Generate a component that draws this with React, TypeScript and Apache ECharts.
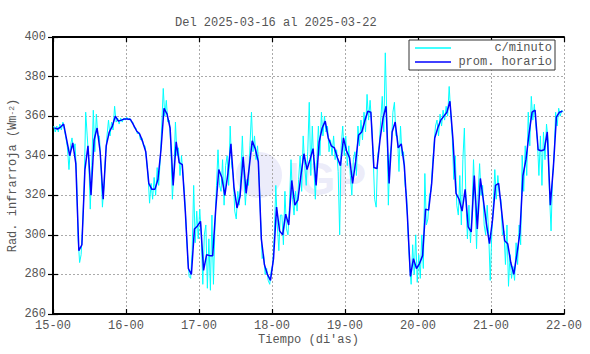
import React, { useEffect, useRef } from "react";
import * as echarts from "echarts";

const START_DAY = 15;
const TOTAL_HOURS = 168;
const HOUR_STEP = 24;
const TITLE = "Del 2025-03-16 al 2025-03-22";
const X_NAME = "Tiempo (di'as)";
const Y_NAME = "Rad. infrarroja (Wm{sup|-2})";
const Y_MIN = 260;
const Y_MAX = 400;
const Y_STEP = 20;
const SERIES_MINUTE = "c/minuto";
const SERIES_HOURLY = "prom. horario";

// hourly averages (plotted at mid-hour)
const hourly: number[] = [
  // 15
  354, 353.5, 354.5, 356, 348, 340, 346.5, 336, 292, 295, 333, 345, 320, 348, 354, 342, 318, 345, 352, 355, 360, 357.5, 358, 358.6,
  // 16
  358.6, 358.3, 355.5, 352.5, 351, 347, 342, 326, 323, 323, 328, 343, 364, 361, 354, 325, 347, 336.5, 335.5, 312, 283, 280, 303, 304.5,
  // 17
  306.8, 282, 290, 289.5, 289.5, 313, 333, 329, 320, 331, 346, 324, 313.6, 319.5, 339.5, 321, 334, 347.5, 343.5, 337, 298, 285, 280, 277,
  // 18
  288, 314, 302, 300, 310.5, 305, 327.5, 315, 317.5, 330, 341, 333, 338, 343.6, 325, 347, 354, 357.5, 349, 345, 344, 339, 335, 349,
  // 19
  342.5, 339, 326, 337, 350.5, 352, 357.5, 362.5, 362, 334, 333.5, 348, 359, 365, 326, 352, 357, 344, 346, 335, 310, 279, 288, 283,
  // 20
  285.5, 289.5, 313, 312.5, 326, 349, 354, 358, 360, 362, 367.5, 348, 321, 318, 312, 323, 304, 301.5, 330, 303, 328.5, 317.5, 305.5, 295.5,
  // 21
  307.5, 325, 326, 312, 297, 295.5, 286, 280, 290, 301, 330, 338, 351, 362, 363, 343, 342.5, 343, 352, 315, 334, 359.5, 362, 362.5,
];

// per-minute readings, sampled twice per hour (at :15 and :45)
const minute: number[] = [
  // 15
  355, 352, 355, 352, 356, 353, 357, 353, 349, 344, 333, 345, 349, 343, 346, 330,
  298, 286, 290, 305, 325, 362, 350, 338, 313, 335, 363, 342, 361, 350, 350, 335,
  314, 325, 340, 350, 358, 350, 357, 353, 365, 357, 359, 356, 359, 357, 359, 358,
  // 16
  359.5, 358, 359, 357, 357, 354, 354, 351, 352, 348, 349, 345, 345, 338, 330, 316,
  326, 318, 329, 320, 334, 325, 338, 355, 374, 360, 368, 357, 358, 345, 318, 332,
  357, 340, 344, 330, 340, 330, 320, 305, 290, 279, 278, 292, 325, 296, 312, 298,
  // 17
  313, 300, 275, 300, 305, 273, 298, 272, 310, 275, 305, 325, 343, 325, 322, 338,
  315, 335, 340, 325, 355, 335, 330, 312, 308, 322, 315, 330, 350, 330, 315, 328,
  325, 345, 362, 342, 350, 338, 345, 330, 308, 288, 290, 280, 283, 277, 275, 282,
  // 18
  285, 300, 325, 305, 292, 310, 310, 295, 322, 303, 300, 315, 338, 318, 310, 322,
  312, 328, 340, 322, 350, 335, 325, 342, 367, 330, 355, 335, 318, 338, 355, 340,
  362, 350, 360, 352, 355, 342, 348, 340, 350, 338, 343, 332, 300, 345, 355, 340,
  // 19
  350, 335, 345, 330, 320, 338, 342, 330, 355, 345, 358, 348, 362, 352, 371, 358,
  368, 356, 340, 318, 314, 340, 345, 358, 370, 352, 392, 360, 315, 340, 345, 362,
  367, 350, 350, 332, 355, 340, 342, 325, 320, 300, 285, 275, 295, 280, 300, 276,
  // 20
  290, 278, 300, 283, 331, 305, 308, 320, 322, 335, 345, 355, 358, 350, 361, 355,
  363, 358, 365, 360, 375, 362, 350, 328, 340, 315, 310, 330, 305, 338, 354, 318,
  298, 315, 296, 310, 338, 318, 293, 320, 336, 320, 325, 305, 300, 315, 300, 277,
  // 21
  300, 315, 333, 318, 330, 320, 318, 300, 302, 285, 305, 274, 290, 278, 284, 277,
  296, 285, 305, 295, 340, 322, 345, 330, 362, 345, 370, 358, 366, 355, 348, 330,
  350, 325, 352, 338, 356, 348, 320, 302, 330, 340, 362, 355, 364, 360, 363, 362,
];

const FONT = "'Liberation Mono', 'DejaVu Sans Mono', monospace";
const TEXT_COLOR = "#555";

export default function App() {
  const ref = useRef<HTMLDivElement>(null);

  useEffect(() => {
    if (!ref.current) return;
    const chart = echarts.init(ref.current, null, { renderer: "svg" });

    const hourlyData = hourly.map((v, i) => [i + 0.5, v]);
    const minuteData = minute.map((v, i) => [i / 2 + 0.25, v]);

    const axisLine = { show: true, lineStyle: { color: "#000", width: 2 } };
    const tick = { show: true, inside: true, length: 5, lineStyle: { color: "#000", width: 1.2 } };
    const grid = { show: true, lineStyle: { color: "#aaa", type: [2, 2] as any, width: 1 } };
    const labelStyle = { color: TEXT_COLOR, fontFamily: FONT, fontSize: 12 };

    const option: any = {
      animation: false,
      backgroundColor: "#fff",
      title: {
        text: TITLE,
        left: 170,
        top: 12,
        textStyle: { fontFamily: FONT, fontSize: 12, fontWeight: "normal", color: TEXT_COLOR },
      },
      grid: { left: 53, right: 26, top: 37, bottom: 40, containLabel: false, outerBoundsMode: "none" },
      legend: {
        right: 35,
        top: 40,
        orient: "vertical",
        itemGap: 2,
        itemWidth: 36,
        itemHeight: 1.5,
        padding: [2, 3, 2, 6],
        backgroundColor: "#fff",
        borderColor: "#333",
        borderWidth: 1,
        borderRadius: 0,
        formatter: (name: string) => `{r|${name}}`,
        textStyle: {
          fontFamily: FONT,
          fontSize: 12,
          color: TEXT_COLOR,
          rich: { r: { width: 96, align: "right", fontFamily: FONT, fontSize: 12, color: TEXT_COLOR, lineHeight: 13 } },
        },
        data: [
          { name: SERIES_MINUTE, icon: "rect" },
          { name: SERIES_HOURLY, icon: "rect" },
        ],
      },
      graphic: [
        {
          type: "group",
          z: 0,
          silent: true,
          children: [
            { type: "circle", shape: { cx: 259, cy: 175, r: 23 }, style: { fill: "rgba(200,200,240,0.35)" } },
            {
              type: "text",
              x: 287,
              y: 156,
              style: { text: "IGP", fill: "rgba(200,200,240,0.35)", font: "bold 46px 'Liberation Sans', sans-serif" },
            },
          ],
        },
      ],
      xAxis: [
        {
          type: "value",
          min: 0,
          max: TOTAL_HOURS,
          interval: HOUR_STEP,
          position: "bottom",
          axisLine,
          axisTick: tick,
          splitLine: grid,
          axisLabel: {
            ...labelStyle,
            margin: 6,
            formatter: (v: number) => `${START_DAY + v / HOUR_STEP}-00`,
          },
          name: X_NAME,
          nameLocation: "middle",
          nameGap: 20,
          nameMoveOverlap: false,
          nameTextStyle: { ...labelStyle },
        },
        {
          type: "value",
          min: 0,
          max: TOTAL_HOURS,
          interval: HOUR_STEP,
          position: "top",
          axisLine,
          axisTick: tick,
          splitLine: { show: false },
          axisLabel: { show: false },
        },
      ],
      yAxis: [
        {
          type: "value",
          min: Y_MIN,
          max: Y_MAX,
          interval: Y_STEP,
          position: "left",
          axisLine,
          axisTick: tick,
          splitLine: grid,
          axisLabel: { ...labelStyle, margin: 7 },
          name: Y_NAME,
          nameLocation: "middle",
          nameGap: 34,
          nameRotate: 90,
          nameMoveOverlap: false,
          nameTextStyle: {
            ...labelStyle,
            rich: { sup: { fontFamily: FONT, fontSize: 8, color: TEXT_COLOR, verticalAlign: "top", lineHeight: 12 } },
          },
        },
        {
          type: "value",
          min: Y_MIN,
          max: Y_MAX,
          interval: Y_STEP,
          position: "right",
          axisLine,
          axisTick: tick,
          splitLine: { show: false },
          axisLabel: { show: false },
        },
      ],
      series: [
        {
          name: SERIES_MINUTE,
          type: "line",
          data: minuteData,
          xAxisIndex: 0,
          yAxisIndex: 0,
          symbol: "none",
          z: 3,
          lineStyle: { color: "#00ffff", width: 1 },
          itemStyle: { color: "#00ffff" },
        },
        {
          name: SERIES_HOURLY,
          type: "line",
          data: hourlyData,
          xAxisIndex: 0,
          yAxisIndex: 0,
          symbol: "none",
          z: 4,
          lineStyle: { color: "#0000ff", width: 1.5 },
          itemStyle: { color: "#0000ff" },
        },
      ],
    };

    chart.setOption(option);
    return () => chart.dispose();
  }, []);

  return <div ref={ref} style={{ position: "fixed", left: 0, top: 0, width: 590, height: 354 }} />;
}
